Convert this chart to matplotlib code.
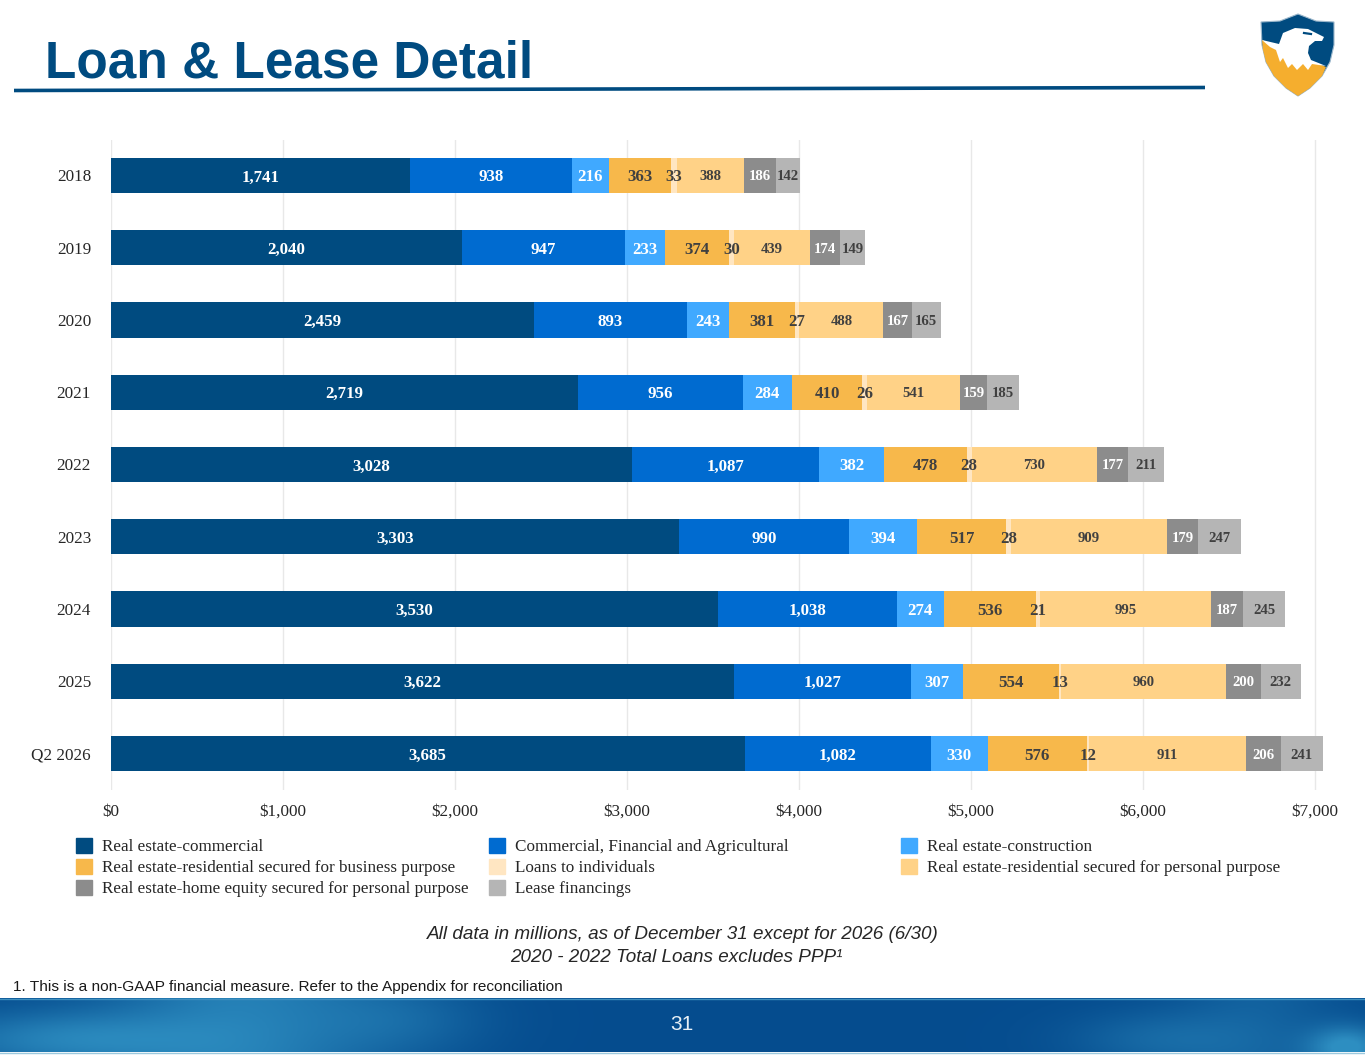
import matplotlib
matplotlib.use('Agg')
import matplotlib.pyplot as plt
from matplotlib.patches import Polygon, Patch
import numpy as np

years = ['2018', '2019', '2020', '2021', '2022', '2023', '2024', '2025', 'Q2 2026']

commercial = [1741, 2040, 2459, 2719, 3028, 3303, 3530, 3622, 3685]
financial = [938, 947, 893, 956, 1087, 990, 1038, 1027, 1082]
construction = [216, 233, 243, 284, 382, 394, 274, 307, 330]
resi_business = [363, 374, 381, 410, 478, 517, 536, 554, 576]
individuals = [33, 30, 27, 26, 28, 28, 21, 13, 12]
resi_personal = [388, 439, 488, 541, 730, 909, 995, 960, 911]
home_equity = [186, 174, 167, 159, 177, 179, 187, 200, 206]
lease = [142, 149, 165, 185, 211, 247, 245, 232, 241]

series = [commercial, financial, construction, resi_business,
          individuals, resi_personal, home_equity, lease]
names = ['Real estate-commercial',
         'Commercial, Financial and Agricultural',
         'Real estate-construction',
         'Real estate-residential secured for business purpose',
         'Loans to individuals',
         'Real estate-residential secured for personal purpose',
         'Real estate-home equity secured for personal purpose',
         'Lease financings']
colors = ['#004B80', '#006BD0', '#40A9FF', '#F7B84B',
          '#FFE6C2', '#FFD287', '#8C8C8C', '#B5B5B5']
label_colors = ['white', 'white', 'white', '#404040',
                '#404040', '#404040', 'white', '#404040']
label_sizes = [12.2, 12.2, 12.2, 12.2, 12.2, 10.6, 10.6, 10.6]
xticks = [0, 1000, 2000, 3000, 4000, 5000, 6000, 7000]

W, H = 1365, 1055
SERIF = 'Liberation Serif'
SANS = 'Liberation Sans'
NAVY = '#004B80'

fig = plt.figure(figsize=(W / 100, H / 100), dpi=100)

# chart area, placed to land on the pixels of the slide
px_per_unit = 0.1721
ax = fig.add_axes([110.5 / W, 1 - 790 / H, 7100 * px_per_unit / W, 650 / H])
y = np.arange(len(years))
left = np.zeros(len(years))
for vals, col, lc, fs in zip(series, colors, label_colors, label_sizes):
    bars = ax.barh(y, vals, left=left, height=0.485, color=col, zorder=3)
    texts = ax.bar_label(bars, labels=[f'{v:,}' for v in vals], label_type='center',
                         color=lc, fontsize=fs, fontweight='bold', family=SERIF, zorder=4)
    for t in texts:
        t.set_verticalalignment('center_baseline')
    left += np.array(vals)

ax.set_xlim(0, 7100)
ax.set_ylim(8.505, -0.491)
ax.set_yticks(y, years, family=SERIF, fontsize=12.3, color='#262626')
ax.set_xticks(xticks, [f'${v:,}' for v in xticks], family=SERIF, fontsize=12.3, color='#262626')
ax.tick_params(length=0)
ax.tick_params(axis='x', pad=10)
ax.tick_params(axis='y', pad=14)
ax.grid(axis='x', color='#E8E8E8', lw=1, zorder=0)
for s in ax.spines.values():
    s.set_visible(False)

# legend is filled row by row in the slide, so one legend per column
handles = [Patch(color=c) for c in colors]
for col_x, idx in zip([76, 489, 901], [[0, 3, 6], [1, 4, 7], [2, 5]]):
    leg = fig.legend([handles[i] for i in idx], [names[i] for i in idx],
                     loc='upper left', bbox_to_anchor=(col_x / W, 1 - 838 / H),
                     frameon=False, borderpad=0, borderaxespad=0, handlelength=0.94,
                     handleheight=0.94, handletextpad=0.6, labelspacing=0.22,
                     prop={'family': SERIF, 'size': 12.3})
    for t in leg.get_texts():
        t.set_color('#262626')

# overlay in pixel coordinates for the slide furniture
deco = fig.add_axes([0, 0, 1, 1], zorder=5)
deco.set_xlim(0, W)
deco.set_ylim(H, 0)
deco.axis('off')

deco.text(45, 78, 'Loan & Lease Detail', family=SANS, fontweight='bold',
          fontsize=37, color=NAVY, va='baseline')
deco.plot([14, 1205], [90.5, 87.5], color=NAVY, lw=2.6, solid_capstyle='butt')

deco.text(683, 934.5, 'All data in millions, as of December 31 except for 2026 (6/30)',
          family=SANS, style='italic', fontsize=13.6, color='#262626', ha='center', va='center')
deco.text(676, 957, '2020 - 2022 Total Loans excludes PPP\u00b9',
          family=SANS, style='italic', fontsize=13.6, color='#262626', ha='center', va='center')
deco.text(13, 987, '1. This is a non-GAAP financial measure. Refer to the Appendix for reconciliation',
          family=SANS, fontsize=11.05, color='#1a1a1a', va='center')

# footer band: horizontal blue gradient with soft lighter patches at both ends
fx, fy = np.meshgrid(np.linspace(0, W, 400), np.linspace(998, 1052, 40))
base = np.array([0.02, 0.30, 0.56])
glow = np.array([0.18, 0.56, 0.76])
amount = (0.75 * np.exp(-((fx - 60) / 130) ** 2 - ((fy - 1040) / 30) ** 2)
          + 0.75 * np.exp(-((fx - 240) / 130) ** 2)
          + 0.35 * np.exp(-((fx - 400) / 90) ** 2 - ((fy - 1020) / 40) ** 2)
          + 0.40 * np.exp(-((fx - 1160) / 90) ** 2 - ((fy - 1040) / 30) ** 2)
          + 0.30 * np.exp(-((fx - 1260) / 80) ** 2)
          + 1.0 * np.exp(-((fx - 1350) / 40) ** 2 - ((fy - 1048) / 22) ** 2))
amount = np.clip(amount, 0, 1)[..., None]
deco.imshow(base + (glow - base) * amount, extent=[0, W, 1052, 998], aspect='auto', zorder=1)
deco.set_xlim(0, W)
deco.set_ylim(H, 0)
deco.plot([0, W], [998.5, 998.5], color='#3E8FBF', lw=1, zorder=2)
deco.plot([0, W], [1052.5, 1052.5], color='#9CC9DE', lw=1, zorder=2)
deco.text(682, 1024, '31', family=SANS, fontsize=15, color='#E8F0F6', ha='center', va='center', zorder=3)

# eagle shield logo
shield = [(1261, 22), (1280, 21), (1298, 14), (1316, 21), (1334, 22), (1334, 45), (1330, 62),
          (1322, 76), (1310, 88), (1298, 96), (1286, 88), (1274, 76), (1266, 62), (1262, 45)]
gold = [(1262, 40), (1326, 67), (1322, 76), (1310, 88), (1298, 96), (1286, 88),
        (1274, 76), (1266, 62), (1263, 50)]
head = [(1262, 40), (1279, 44), (1283, 33), (1295, 28), (1308, 29), (1316, 33), (1324, 37),
        (1322, 41), (1315, 41), (1309, 46), (1308, 53), (1311, 60), (1326, 66), (1312, 64),
        (1308, 70), (1303, 64), (1297, 70), (1292, 64), (1288, 68), (1283, 58), (1280, 62),
        (1276, 50), (1270, 47)]
deco.add_patch(Polygon(shield, closed=True, facecolor=NAVY, edgecolor='#9DB8CC', lw=0.8, zorder=2))
deco.add_patch(Polygon(gold, closed=True, facecolor='#F5AE2E', edgecolor='none', zorder=3))
deco.add_patch(Polygon(head, closed=True, facecolor='white', edgecolor='none', zorder=4))
deco.plot([1304, 1311], [33, 34], color=NAVY, lw=1.6, zorder=5)

fig.savefig('out.png', dpi=100)
